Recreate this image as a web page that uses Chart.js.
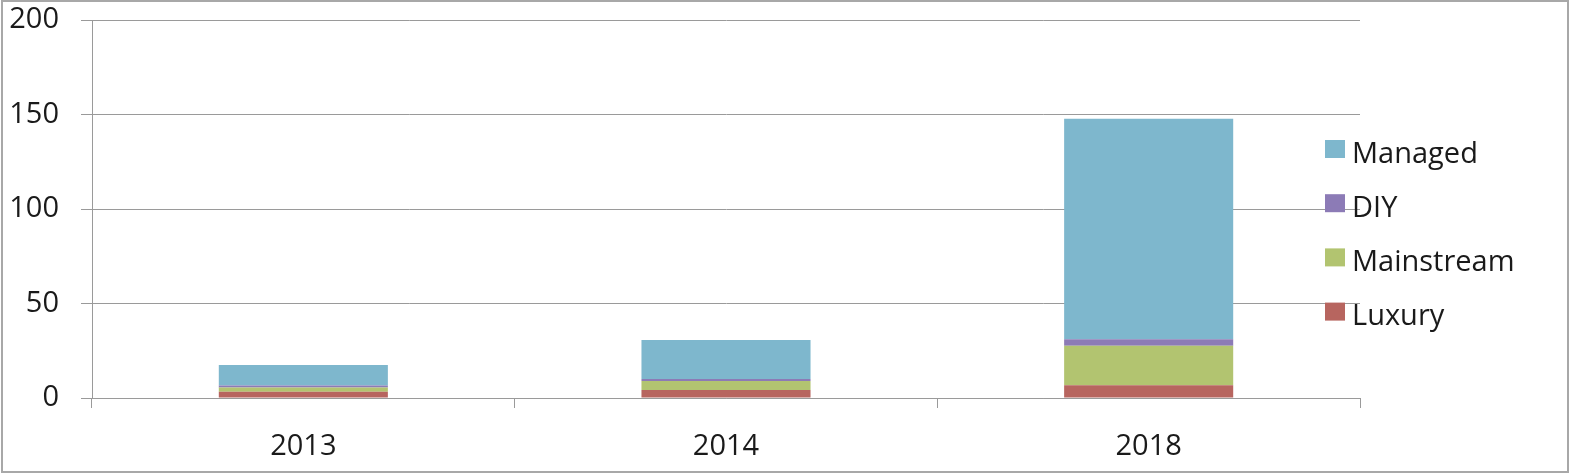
<!DOCTYPE html>
<html>
<head>
<meta charset="utf-8">
<script src="https://cdn.jsdelivr.net/npm/chart.js@4"></script>
<style>
  html, body { margin: 0; padding: 0; background: #ffffff; }
  #c { display: block; }
</style>
</head>
<body>
<canvas id="c" width="1569" height="473"></canvas>
<script>
const categories = ['2013', '2014', '2018'];
const luxury     = [3.3, 4.2, 6.7];
const mainstream = [2.3, 4.8, 21.0];
const diy        = [1.0, 1.0, 3.4];
const managed    = [10.9, 20.7, 116.6];
const seriesNames = ['Luxury', 'Mainstream', 'DIY', 'Managed'];
const seriesColors = ['#b7655f', '#b2c470', '#8c7bb6', '#7eb7cd'];
const yTicks = [0, 50, 100, 150, 200];

const FONT = '"Open Sans", "Liberation Sans", sans-serif';
const GRID = '#9a9a9a';

const borderPlugin = {
  id: 'frame',
  beforeDraw(chart) {
    const ctx = chart.ctx;
    ctx.save();
    ctx.fillStyle = '#ffffff';
    ctx.fillRect(0, 0, chart.width, chart.height);
    ctx.strokeStyle = '#a8a8a8';
    ctx.lineWidth = 2;
    ctx.strokeRect(2, 1, chart.width - 3, chart.height - 2);
    ctx.restore();
  }
};

const legendPlugin = {
  id: 'sideLegend',
  afterDraw(chart) {
    const ctx = chart.ctx;
    const ds = chart.data.datasets;
    ctx.save();
    ctx.font = '29px ' + FONT;
    ctx.textBaseline = 'alphabetic';
    ctx.textAlign = 'left';
    const x0 = 1325, y0 = 149, step = 54.2;
    for (let i = 0; i < ds.length; i++) {
      const d = ds[ds.length - 1 - i];
      const cy = y0 + i * step;
      ctx.fillStyle = d.backgroundColor;
      ctx.fillRect(x0, cy - 9, 20, 18);
      ctx.fillStyle = '#1a1a1a';
      ctx.fillText(d.label, x0 + 27, cy + 13.5);
    }
    ctx.restore();
  }
};

function build() {
  const seriesData = [luxury, mainstream, diy, managed];
  new Chart(document.getElementById('c'), {
    type: 'bar',
    data: {
      labels: categories,
      datasets: seriesNames.map((n, i) => ({
        label: n,
        data: seriesData[i],
        backgroundColor: seriesColors[i],
        borderWidth: 0,
        barPercentage: 0.4,
        categoryPercentage: 1.0
      }))
    },
    options: {
      responsive: false,
      animation: false,
      devicePixelRatio: 1,
      layout: { autoPadding: false, padding: { left: 0, right: 209, top: 0, bottom: 0 } },
      plugins: { legend: { display: false }, tooltip: { enabled: false } },
      scales: {
        x: {
          stacked: true,
          offset: true,
          grid: { display: true, drawOnChartArea: false, offset: true, tickLength: 10, color: GRID, lineWidth: 1 },
          border: { display: true, color: GRID, width: 1 },
          ticks: { font: { family: FONT, size: 29 }, color: '#1a1a1a', padding: 21 },
          afterFit(s) { s.height = 75; }
        },
        y: {
          stacked: true,
          min: 0,
          max: 200,
          afterBuildTicks(s) { s.ticks = yTicks.map(v => ({ value: v })); },
          grid: { display: true, drawOnChartArea: true, tickLength: 11, color: GRID, lineWidth: 1 },
          border: { display: true, color: GRID, width: 1 },
          ticks: { font: { family: FONT, size: 29 }, color: '#1a1a1a', padding: 22 },
          afterFit(s) { s.width = 92; s.paddingTop = 20; s.paddingBottom = 0; }
        }
      }
    },
    plugins: [borderPlugin, legendPlugin]
  });
}

if (document.fonts && document.fonts.load) {
  document.fonts.load('29px "Open Sans"').then(build, build);
} else {
  build();
}
</script>
</body>
</html>
